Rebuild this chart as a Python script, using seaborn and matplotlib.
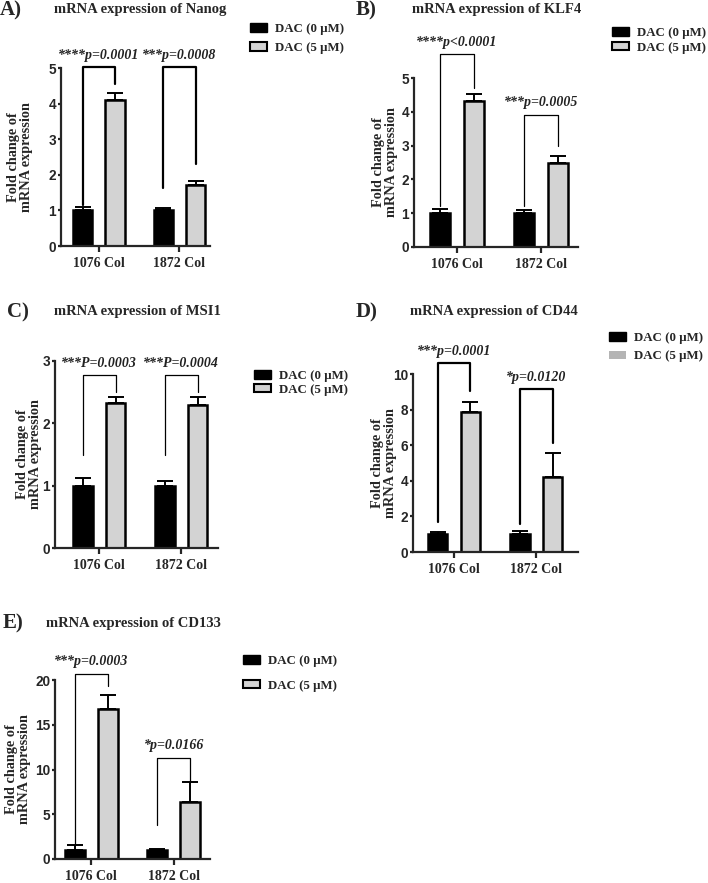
import matplotlib

matplotlib.use("Agg")
import matplotlib.pyplot as plt
import pandas as pd
import seaborn as sns
from matplotlib.patches import Patch

# ---------------------------------------------------
# Data
# ---------------------------------------------------
CELL_LINES = ["1076 Col", "1872 Col"]
TREATMENTS = ["DAC (0 μM)", "DAC (5 μM)"]

nanog_ctrl = [1.0, 1.0]
nanog_ctrl_sd = [0.10, 0.06]
nanog_dac = [4.10, 1.70]
nanog_dac_sd = [0.20, 0.12]
nanog_tests = [(5.02, 1.14, 4.54, "****p=0.0001"), (5.02, 1.62, 2.29, "***p=0.0008")]

klf4_ctrl = [1.0, 1.0]
klf4_ctrl_sd = [0.11, 0.08]
klf4_dac = [4.33, 2.48]
klf4_dac_sd = [0.20, 0.20]
klf4_tests = [(5.70, 1.20, 4.70, "****p<0.0001"), (3.92, 1.20, 3.00, "***p=0.0005")]

msi1_ctrl = [1.0, 1.0]
msi1_ctrl_sd = [0.13, 0.07]
msi1_dac = [2.33, 2.30]
msi1_dac_sd = [0.10, 0.12]
msi1_tests = [(2.77, 1.50, 2.50, "***P=0.0003"), (2.77, 1.50, 2.50, "***P=0.0004")]

cd44_ctrl = [1.0, 1.0]
cd44_ctrl_sd = [0.12, 0.20]
cd44_dac = [7.85, 4.20]
cd44_dac_sd = [0.60, 1.35]
cd44_tests = [(10.6, 1.70, 9.05, "***p=0.0001"), (9.14, 1.60, 6.10, "*p=0.0120")]

cd133_ctrl = [1.05, 1.0]
cd133_ctrl_sd = [0.50, 0.10]
cd133_dac = [16.8, 6.35]
cd133_dac_sd = [1.50, 2.30]
cd133_tests = [(20.7, 1.70, 19.3, "***p=0.0003"), (11.3, 3.80, 8.70, "*p=0.0166")]

SERIF = "Liberation Serif"
SANS = "Liberation Sans"
BLACK = "#000000"
GRAY = "#d3d3d3"

sns.set_style("ticks")
plt.rcParams["font.family"] = [SERIF, "DejaVu Sans"]

W, H = 708, 883


def draw_panel(ax, ctrl, ctrl_sd, dac, dac_sd, tests, ymax, ystep, xlim,
               bracket_lw, label_px):
    df = pd.DataFrame(
        {
            "line": CELL_LINES * 2,
            "treatment": [TREATMENTS[0]] * 2 + [TREATMENTS[1]] * 2,
            "fold": ctrl + dac,
            "sd": ctrl_sd + dac_sd,
        }
    )
    sns.barplot(
        data=df,
        x="line",
        y="fold",
        hue="treatment",
        order=CELL_LINES,
        hue_order=TREATMENTS,
        palette=[BLACK, GRAY],
        edgecolor="black",
        linewidth=1.8,
        width=0.8,
        gap=0.4,
        errorbar=None,
        legend=False,
        ax=ax,
    )

    # upper-only SD bars, GraphPad style
    centers = {}
    for treat, cont in zip(TREATMENTS, ax.containers):
        for bar in cont:
            cx = bar.get_x() + bar.get_width() / 2
            idx = int(round(cx))
            row = df[(df["line"] == CELL_LINES[idx]) & (df["treatment"] == treat)].iloc[0]
            ax.errorbar(
                cx, row["fold"], yerr=[[0], [row["sd"]]], fmt="none",
                ecolor="black", elinewidth=1.4, capsize=6, capthick=1.4, zorder=3,
            )
            centers[(idx, treat)] = cx

    # significance brackets
    for idx, (top, left_end, right_end, label) in enumerate(tests):
        x0 = centers[(idx, TREATMENTS[0])]
        x1 = centers[(idx, TREATMENTS[1])]
        ax.plot([x0, x0, x1, x1], [left_end, top, top, right_end],
                color="black", lw=bracket_lw, clip_on=False, zorder=4)
        ax.annotate(label, xy=((x0 + x1) / 2, top), xytext=(0, 4),
                    textcoords="offset points", ha="center", va="bottom",
                    fontsize=10, fontweight="bold", fontstyle="italic",
                    color="#222222", annotation_clip=False)

    ax.set_ylim(0, ymax)
    ax.set_yticks([ystep * i for i in range(int(round(ymax / ystep)) + 1)])
    ax.set_xlim(*xlim)
    ax.set_xlabel("")
    ax.set_ylabel("Fold change of\nmRNA expression", fontsize=10.3, fontweight="bold",
                  linespacing=0.95)
    ax.yaxis.label.set_va("center")
    bbox = ax.get_position()
    ax.yaxis.set_label_coords((label_px / W - bbox.x0) / bbox.width, 0.5)
    for lab in ax.get_yticklabels():
        lab.set_fontfamily(SANS)
        lab.set_fontweight("bold")
        lab.set_fontsize(9.8)
    for lab in ax.get_xticklabels():
        lab.set_fontweight("bold")
        lab.set_fontsize(10)
    sns.despine(ax=ax)
    for side in ["left", "bottom"]:
        ax.spines[side].set_linewidth(1.6)
    ax.tick_params(axis="y", width=1.6, length=2.5, pad=1)
    ax.tick_params(axis="x", width=1.6, length=4, pad=4)


def add_legend(fig, x_px, y_px, spacing, light=False):
    second = (Patch(facecolor="#b4b4b4", edgecolor="none") if light
              else Patch(facecolor=GRAY, edgecolor="black", linewidth=1.5))
    handles = [Patch(facecolor=BLACK, edgecolor="black"), second]
    fig.legend(handles, TREATMENTS, loc="upper left",
               bbox_to_anchor=(x_px / W, 1 - y_px / H), frameon=False,
               borderpad=0, borderaxespad=0, handlelength=1.3, handleheight=0.6,
               handletextpad=0.6, labelspacing=spacing,
               prop={"family": SERIF, "weight": "bold", "size": 9.3})


fig = plt.figure(figsize=(W / 100, H / 100), dpi=100)


def px_axes(left, right, top, bottom):
    return fig.add_axes([left / W, 1 - bottom / H, (right - left) / W, (bottom - top) / H])


ax_a = px_axes(61, 210, 68, 246)
ax_b = px_axes(414, 578, 78, 247)
ax_c = px_axes(55, 218, 361, 548)
ax_d = px_axes(413, 578, 374, 552)
ax_e = px_axes(55, 210, 680, 859)

draw_panel(ax_a, nanog_ctrl, nanog_ctrl_sd, nanog_dac, nanog_dac_sd, nanog_tests,
           5, 1, (-0.47, 1.38), 1.6, 20)
draw_panel(ax_b, klf4_ctrl, klf4_ctrl_sd, klf4_dac, klf4_dac_sd, klf4_tests,
           5, 1, (-0.51, 1.44), 0.9, 385)
draw_panel(ax_c, msi1_ctrl, msi1_ctrl_sd, msi1_dac, msi1_dac_sd, msi1_tests,
           3, 1, (-0.54, 1.45), 0.9, 29)
draw_panel(ax_d, cd44_ctrl, cd44_ctrl_sd, cd44_dac, cd44_dac_sd, cd44_tests,
           10, 2, (-0.50, 1.51), 1.6, 384)
draw_panel(ax_e, cd133_ctrl, cd133_ctrl_sd, cd133_dac, cd133_dac_sd, cd133_tests,
           20, 5, (-0.44, 1.44), 0.9, 18)

# panel titles and letters
titles = [
    ("A)", 0, 10, "mRNA expression of Nanog", 140, 10),
    ("B)", 356, 10, "mRNA expression of KLF4", 497, 10),
    ("C)", 7, 312, "mRNA expression of MSI1", 137, 312),
    ("D)", 356, 312, "mRNA expression of CD44", 494, 312),
    ("E)", 3, 623, "mRNA expression of CD133", 133, 623),
]
for letter, lx, ly, title, tx, ty in titles:
    fig.text(lx / W, 1 - ly / H, letter, ha="left", va="center",
             fontsize=15, fontweight="bold")
    fig.text(tx / W, 1 - ty / H, title, ha="center", va="center",
             fontsize=10.5, fontweight="bold")

add_legend(fig, 250, 23, 0.55)
add_legend(fig, 612, 27, 0.2)
add_legend(fig, 254, 370, 0.15)
add_legend(fig, 609, 332, 0.5, light=True)
add_legend(fig, 243, 655, 1.0)

fig.savefig("out.png", dpi=100)
plt.close(fig)
